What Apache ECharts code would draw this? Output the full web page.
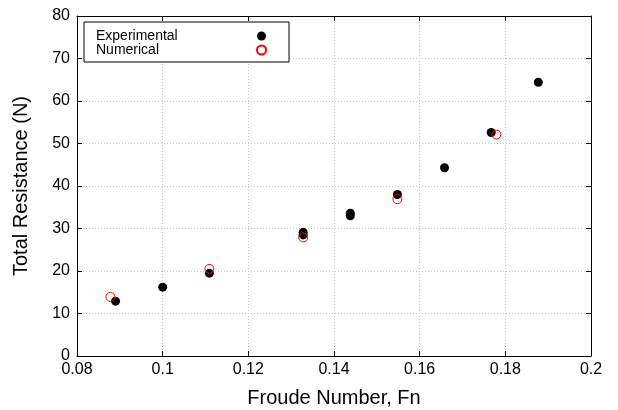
<!DOCTYPE html>
<html>
<head>
<meta charset="utf-8">
<script src="https://cdn.jsdelivr.net/npm/echarts@6/dist/echarts.min.js"></script>
<style>
  html, body { margin: 0; padding: 0; background: #fff; }
  #chart { width: 618px; height: 410px; }
</style>
</head>
<body>
<div id="chart"></div>
<script>
// data
const seriesNames = ['Experimental', 'Numerical'];
const expFn = [0.0890, 0.1000, 0.1109, 0.1328, 0.1328, 0.1438, 0.1438, 0.1548, 0.1658, 0.1767, 0.1877];
const expRt = [12.9, 16.2, 19.5, 28.5, 29.1, 33.0, 33.6, 38.0, 44.3, 52.6, 64.4];
const numFn = [0.0878, 0.1109, 0.1328, 0.1548, 0.1779];
const numRt = [13.9, 20.5, 27.9, 36.9, 52.1];
const xRange = [0.08, 0.2, 0.02];
const yRange = [0, 80, 10];

document.addEventListener('DOMContentLoaded', function() {
  const chart = echarts.init(document.getElementById('chart'));
  const font = 'Liberation Sans, Arial, sans-serif';
  const pair = (xs, ys) => xs.map((x, i) => [x, ys[i]]);

  const baseX = {
    type: 'value',
    min: xRange[0], max: xRange[1], interval: xRange[2],
    axisLine: { show: true, onZero: false, lineStyle: { color: '#000', width: 1 } },
    axisTick: { show: true, inside: true, length: 5, lineStyle: { color: '#000' } },
    splitLine: { show: false }
  };
  const baseY = {
    type: 'value',
    min: yRange[0], max: yRange[1], interval: yRange[2],
    axisLine: { show: true, onZero: false, lineStyle: { color: '#000', width: 1 } },
    axisTick: { show: true, inside: true, length: 5, lineStyle: { color: '#000' } },
    splitLine: { show: false }
  };
  const grid = { show: true, lineStyle: { color: '#c8c8c8', type: [1, 2], width: 1 } };

  const option = {
    animation: false,
    textStyle: { fontFamily: font },
    grid: { left: 77, right: 27, top: 16, bottom: 54, containLabel: false, outerBoundsMode: 'none' },
    legend: {
      data: seriesNames,
      left: 84, top: 22,
      orient: 'vertical',
      align: 'right',
      itemGap: 0,
      itemWidth: 9, itemHeight: 9,
      padding: [7, 22, 5, 12],
      borderColor: '#000', borderWidth: 1,
      backgroundColor: '#fff',
      formatter: name => '{t|' + name + '}',
      textStyle: {
        color: '#000', fontFamily: font,
        rich: { t: { fontSize: 14, lineHeight: 15, width: 156, align: 'left', color: '#000', fontFamily: font } }
      }
    },
    xAxis: [
      Object.assign({}, baseX, {
        position: 'bottom',
        name: 'Froude Number, Fn',
        nameLocation: 'middle',
        nameGap: 32,
        nameTextStyle: { fontSize: 20, color: '#000', fontFamily: font },
        axisLabel: {
          color: '#000', fontSize: 16, margin: 6, fontFamily: font,
          formatter: v => String(+v.toFixed(2))
        },
        splitLine: grid
      }),
      Object.assign({}, baseX, { position: 'top', axisLabel: { show: false } })
    ],
    yAxis: [
      Object.assign({}, baseY, {
        position: 'left',
        name: 'Total Resistance (N)',
        nameLocation: 'middle',
        nameGap: 46,
        nameTextStyle: { fontSize: 20, color: '#000', fontFamily: font },
        axisLabel: { color: '#000', fontSize: 16, margin: 7, fontFamily: font },
        splitLine: grid
      }),
      Object.assign({}, baseY, { position: 'right', axisLabel: { show: false } })
    ],
    series: [
      {
        name: seriesNames[0],
        type: 'scatter',
        symbol: 'circle',
        symbolSize: 9,
        itemStyle: { color: '#000', opacity: 1 },
        data: pair(expFn, expRt)
      },
      {
        name: seriesNames[1],
        type: 'scatter',
        symbol: 'circle',
        symbolSize: 9,
        itemStyle: { color: 'rgba(0,0,0,0)', borderColor: '#ff0000', borderWidth: 1, opacity: 1 },
        data: pair(numFn, numRt)
      }
    ]
  };
  chart.setOption(option);
});
</script>
</body>
</html>
